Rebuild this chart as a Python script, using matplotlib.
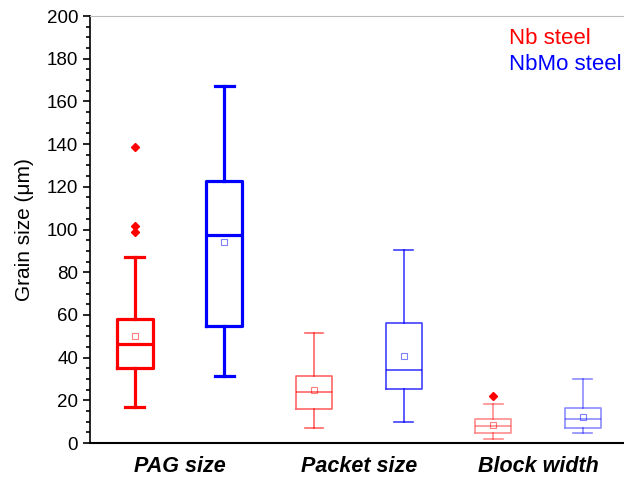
import numpy as np
import matplotlib
matplotlib.use("Agg")
import matplotlib.pyplot as plt
from matplotlib.ticker import MultipleLocator

plt.rcParams['font.family'] = ['Liberation Sans', 'DejaVu Sans']

# box statistics (order: PAG Nb, PAG NbMo, Packet Nb, Packet NbMo, Block Nb, Block NbMo)
groups = ["PAG size", "Packet size", "Block width"]
whislo = [17, 31.4, 6.9, 10, 1.9, 4.7]
q1 = [35, 55, 16, 25.3, 4.7, 6.9]
med = [46.2, 97.6, 24, 34, 8, 11.1]
q3 = [58, 122.6, 31.5, 56.2, 11.1, 16.2]
whishi = [87.3, 167, 51.4, 90.4, 18.1, 30]
means = [50, 94, 24.7, 40.6, 8.6, 12.3]
fliers = [[138.8, 101.6, 99], [], [], [], [22.2], []]

colors = ['red', 'blue', 'red', 'blue', 'red', 'blue']
alphas = [1, 1, 0.6, 0.75, 0.45, 0.45]
widths_lw = [2.3, 2.3, 1.2, 1.2, 1.2, 1.2]

fig = plt.figure(figsize=(6.24, 4.78), dpi=100)
ax = fig.add_axes([0.1442, 0.0732, 0.8558, 0.8933])

positions = np.arange(1, 7)
for i in range(6):
    st = dict(whislo=whislo[i], q1=q1[i], med=med[i], q3=q3[i], whishi=whishi[i],
              mean=means[i], fliers=fliers[i])
    c = colors[i]
    a = alphas[i]
    lw = widths_lw[i]
    ax.bxp([st], positions=[positions[i]], widths=0.4, capwidths=0.21, showmeans=True,
           boxprops=dict(color=c, lw=lw, alpha=a),
           whiskerprops=dict(color=c, lw=lw, alpha=a),
           capprops=dict(color=c, lw=lw, alpha=a),
           medianprops=dict(color=c, lw=lw, alpha=a),
           meanprops=dict(marker='s', markerfacecolor='none', markeredgecolor=c,
                          markersize=4, markeredgewidth=0.8, alpha=0.5),
           flierprops=dict(marker='D', markerfacecolor='red', markeredgecolor='red',
                           markersize=4))

ax.set_xlim(0.5, 6.46)
ax.set_ylim(0, 200)
ax.set_xticks([1.5, 3.5, 5.5])
ax.set_xticklabels(groups, fontsize=15.5, fontweight='bold', fontstyle='italic')
ax.tick_params(axis='x', length=0, pad=9)
ax.yaxis.set_major_locator(MultipleLocator(20))
ax.yaxis.set_minor_locator(MultipleLocator(5))
ax.tick_params(axis='y', which='major', direction='out', length=5, width=1.2, labelsize=13.5)
ax.tick_params(axis='y', which='minor', direction='out', length=3, width=1.2)
ax.set_ylabel("Grain size (\u03bcm)", fontsize=15, labelpad=9)

ax.spines['right'].set_visible(False)
ax.spines['top'].set_color('#bbbbbb')
ax.spines['left'].set_linewidth(1.2)
ax.spines['bottom'].set_linewidth(1.5)

ax.text(0.784, 0.972, "Nb steel", color='red', fontsize=16, transform=ax.transAxes, va='top')
ax.text(0.784, 0.912, "NbMo steel", color='blue', fontsize=16, transform=ax.transAxes, va='top')

fig.savefig("out.png", dpi=100)
